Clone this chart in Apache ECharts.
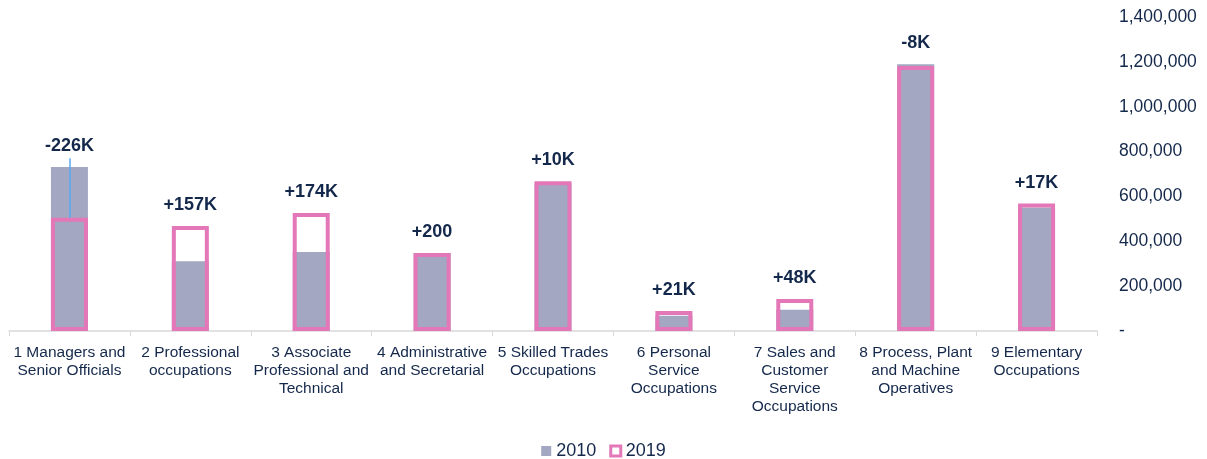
<!DOCTYPE html>
<html lang="en">
<head>
    <meta charset="UTF-8">
    <title>Occupations 2010 vs 2019</title>
    <script src="https://cdn.jsdelivr.net/npm/echarts@6/dist/echarts.min.js"></script>
    <style>
        html, body { margin: 0; padding: 0; background: #fff; }
    </style>
</head>
<body>
<div id="chart" style="width:1207px;height:459px;"></div>
<script>
    var categories = [
        '1 Managers and\nSenior Officials',
        '2 Professional\noccupations',
        '3 Associate\nProfessional and\nTechnical',
        '4 Administrative\nand Secretarial',
        '5 Skilled Trades\nOccupations',
        '6 Personal\nService\nOccupations',
        '7 Sales and\nCustomer\nService\nOccupations',
        '8 Process, Plant\nand Machine\nOperatives',
        '9 Elementary\nOccupations'
    ];
    var values2010 = [731000, 311000, 352000, 348000, 658000, 68000, 95000, 1189000, 551000];
    var values2019 = [505000, 468000, 526000, 348200, 668000, 89000, 143000, 1181000, 568000];
    var changeLabels = ['-226K', '+157K', '+174K', '+200', '+10K', '+21K', '+48K', '-8K', '+17K'];

    var navy = '#14284b';
    var grey = '#a3a7c1';
    var pink = '#e377b8';

    // label sits above whichever bar is taller
    var labelTops = values2010.map(function (v, i) { return Math.max(v, values2019[i]); });

    var chart = echarts.init(document.getElementById('chart'));
    chart.setOption({
        animation: false,
        textStyle: { fontFamily: 'Arial, "Liberation Sans", sans-serif' },
        grid: { left: 9, right: 110, top: 17, bottom: 128, containLabel: false },
        legend: {
            top: 437,
            left: 'center',
            itemWidth: 10,
            itemHeight: 10,
            itemGap: 13,
            icon: 'rect',
            textStyle: { fontSize: 18, color: navy },
            data: [
                { name: '2010', itemStyle: { color: grey, borderWidth: 0 } },
                { name: '2019', itemStyle: { color: '#fff', borderColor: pink, borderWidth: 3 } }
            ]
        },
        xAxis: {
            type: 'category',
            data: categories,
            axisLine: { lineStyle: { color: '#d9d9d9', width: 1.5 } },
            axisTick: { show: true, length: 5, lineStyle: { color: '#d9d9d9' } },
            axisLabel: {
                interval: 0,
                margin: 13,
                fontSize: 15.5,
                lineHeight: 18,
                color: navy
            }
        },
        yAxis: {
            type: 'value',
            position: 'right',
            min: 0,
            max: 1400000,
            interval: 200000,
            splitLine: { show: false },
            axisLine: { show: false },
            axisTick: { show: false },
            axisLabel: {
                margin: 22,
                fontSize: 17.5,
                color: navy,
                formatter: function (v) {
                    return v === 0 ? '-' : v.toString().replace(/\B(?=(\d{3})+(?!\d))/g, ',');
                }
            }
        },
        series: [
            {
                name: '2010',
                type: 'bar',
                barWidth: 37,
                barGap: '-100%',
                data: values2010,
                itemStyle: { color: grey },
                z: 2
            },
            {
                name: '2019',
                type: 'bar',
                barWidth: 37,
                barGap: '-100%',
                data: values2019,
                itemStyle: { color: 'transparent', borderColor: pink, borderWidth: 4 },
                z: 3,
                markLine: {
                    silent: true,
                    symbol: 'none',
                    label: { show: false },
                    lineStyle: { color: '#5aa9f0', width: 1.5, type: 'solid' },
                    data: [[{ coord: [0, values2019[0]] }, { coord: [0, 770000] }]]
                }
            },
            {
                name: 'labels',
                type: 'bar',
                barWidth: 37,
                barGap: '-100%',
                silent: true,
                data: labelTops,
                itemStyle: { color: 'transparent' },
                label: {
                    show: true,
                    position: 'top',
                    distance: 12,
                    fontSize: 18,
                    fontWeight: 'bold',
                    color: navy,
                    formatter: function (p) { return changeLabels[p.dataIndex]; }
                },
                z: 1
            }
        ]
    });
</script>
</body>
</html>
